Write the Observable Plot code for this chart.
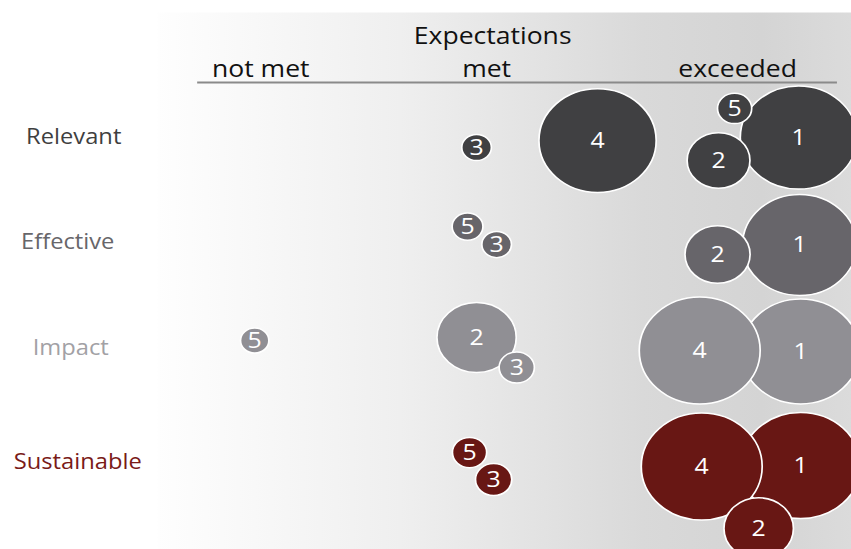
<!DOCTYPE html>
<html>
<head>
<meta charset="utf-8">
<script src="https://cdn.jsdelivr.net/npm/d3@7"></script>
<script src="https://cdn.jsdelivr.net/npm/@observablehq/plot@0.6"></script>
<style>
  html, body { margin: 0; padding: 0; background: #ffffff; }
  #chart svg { display: block; overflow: visible; }
</style>
</head>
<body>
<div id="chart"></div>
<script>
// ---- data ----
const criteria = ["Relevant", "Effective", "Impact", "Sustainable"];
const criteriaFill = ["#404042", "#67656a", "#908f94", "#681714"];
const criteriaLabelColor = ["#3f3f3f", "#67666a", "#a2a1a5", "#7a1a18"];
const criteriaX = [0.355, 0.331, 0.343, 0.371];
const criteriaY = [1.0, 1.97, 2.95, 4.0];

const expectationTitle = "Expectations";
const expectations = ["not met", "met", "exceeded"];
const expectationX = [1.1, 2.0, 3.0];

// [id, expectation score position, row position, size]
const relevant = [[1, 3.243, 1.0, 93], [4, 2.442, 1.028, 94], [2, 2.924, 1.212, 27], [5, 2.988, 0.732, 8], [3, 1.960, 1.092, 6]];
const effective = [[1, 3.247, 1.992, 89], [2, 2.920, 2.080, 29], [5, 1.924, 1.822, 6.5], [3, 2.040, 1.988, 6]];
const impact = [[1, 3.251, 2.975, 96], [4, 2.849, 2.966, 100], [2, 1.960, 2.846, 43], [3, 2.120, 3.123, 8.5], [5, 1.076, 2.874, 5.5]];
const sustainable = [[1, 3.251, 4.028, 98], [4, 2.857, 4.037, 100], [2, 3.084, 4.609, 33], [5, 1.932, 3.908, 8], [3, 2.028, 4.157, 9]];

const groups = [relevant, effective, impact, sustainable];
const bubbles = groups.flatMap((g, i) => g.map(([id, x, y, size]) => ({criterion: criteria[i], id, x, y, size})));
const rowLabels = criteria.map((c, i) => ({c, x: criteriaX[i], y: criteriaY[i], color: criteriaLabelColor[i]}));
const headers = expectations.map((e, i) => ({e, x: expectationX[i]}));

// The original picture is stretched horizontally; draw narrower and stretch the SVG.
const W = 851, H = 549, stretch = 1.13;
const w = W / stretch;
const font = "'Open Sans', sans-serif";

const chart = Plot.plot({
  width: w,
  height: H,
  marginLeft: 157 / stretch,
  marginTop: 12,
  marginRight: 0,
  marginBottom: 0,
  style: {fontFamily: font, background: "transparent", overflow: "visible"},
  x: {domain: [0.689, 3.454], axis: null},
  y: {domain: [-0.154, 4.803], reverse: true, axis: null},
  r: {type: "sqrt", domain: [0, 100], range: [0, 53.5]},
  color: {domain: criteria, range: criteriaFill},
  marks: [
    Plot.frame({fill: "url(#bggrad)", stroke: "none"}),
    Plot.text([expectationTitle], {x: [2.024], y: [0.068], text: d => d, fontSize: 23.5, fill: "#111"}),
    Plot.text(headers, {x: "x", y: 0.372, text: "e", fontSize: 23.5, fill: "#111"}),
    Plot.ruleY([0.492], {x1: 0.849, x2: 3.398, stroke: "#8a8a8a", strokeWidth: 2}),
    Plot.text(rowLabels, {x: "x", y: "y", text: "c", fill: d => d.color, fontSize: 21}),
    Plot.dot(bubbles, {x: "x", y: "y", r: "size", fill: "criterion", stroke: "#ffffff", strokeWidth: 1.5, sort: null}),
    Plot.text(bubbles, {x: "x", y: "y", text: "id", fill: "#ffffff", fontSize: 22})
  ]
});

chart.setAttribute("width", W);
chart.setAttribute("height", H);
chart.setAttribute("viewBox", `0 0 ${w} ${H}`);
chart.setAttribute("preserveAspectRatio", "none");
chart.style.width = W + "px";
chart.style.height = H + "px";

const defs = document.createElementNS("http://www.w3.org/2000/svg", "defs");
defs.innerHTML = `<linearGradient id="bggrad" x1="0" y1="0" x2="1" y2="0">
  <stop offset="0" stop-color="#fefefe"/>
  <stop offset="0.35" stop-color="#efefef"/>
  <stop offset="0.7" stop-color="#d9d9d9"/>
  <stop offset="0.87" stop-color="#d4d4d4"/>
  <stop offset="1" stop-color="#dbdbdb"/>
</linearGradient>`;
chart.insertBefore(defs, chart.firstChild);
document.getElementById("chart").appendChild(chart);
</script>
</body>
</html>
